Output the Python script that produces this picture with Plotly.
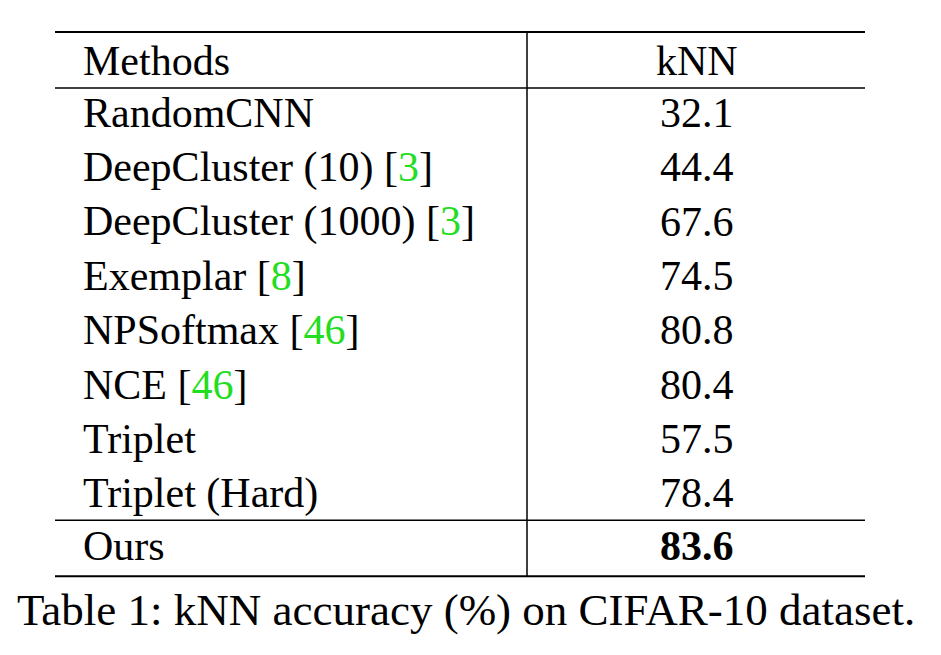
import plotly.graph_objects as go

GREEN = "#22dd22"
methods = ["RandomCNN", "DeepCluster (10)", "DeepCluster (1000)", "Exemplar", "NPSoftmax", "NCE",
           "Triplet", "Triplet (Hard)"]
refs = ["", "3", "3", "8", "46", "46", "", ""]
knn = ["32.1", "44.4", "67.6", "74.5", "80.8", "80.4", "57.5", "78.4"]
ours_name, ours_val = "Ours", "83.6"
header = ["Methods", "kNN"]
caption = "Table 1: kNN accuracy (%) on CIFAR-10 dataset."

W, H = 941, 655
OFF = 8  # page body margin
x_left, x_right, x_div = 55, 865, 527
x_text, x_num = 82, 697
y_top, y_head_line, y_row0, row_h = 32, 88, 113, 54.3
FS = 42
font = dict(family="Liberation Serif", size=FS, color="black")

fig = go.Figure()
ann = []
def add(x, y, t, anchor="left", size=FS):
    ann.append(dict(x=x, y=y, text=t, showarrow=False, xanchor=anchor, yanchor="middle",
                    borderpad=0, font=dict(font, size=size)))

add(x_text, (y_top + y_head_line) / 2 + 1, header[0])
add(x_num, (y_top + y_head_line) / 2 + 1, header[1], "center")
for i, (m, r, v) in enumerate(zip(methods, refs, knn)):
    y = y_row0 + i * row_h
    t = m + (f" [<span style='color:{GREEN}'>{r}</span>]" if r else "")
    add(x_text, y, t)
    add(x_num, y, v, "center")
y_ours_line = y_row0 + len(methods) * row_h - row_h / 2
y_ours = y_ours_line + row_h / 2 - 1
y_bottom = y_ours_line + 56
add(x_text, y_ours, ours_name)
add(x_num, y_ours, f"<b>{ours_val}</b>", "center")
add(16, y_bottom + 34, caption, "left", 45)

shapes = []
for y, w in [(y_top, 2), (y_head_line, 1.5), (y_ours_line, 1.5), (y_bottom, 2)]:
    shapes.append(dict(type="line", x0=x_left, x1=x_right, y0=y, y1=y, line=dict(color="black", width=w)))
shapes.append(dict(type="line", x0=x_div, x1=x_div, y0=y_top, y1=y_bottom, line=dict(color="black", width=1.5)))

fig.update_layout(width=W, height=H, margin=dict(l=0, r=0, t=0, b=0),
                  plot_bgcolor="white", paper_bgcolor="white",
                  xaxis=dict(range=[OFF, W + OFF], visible=False, fixedrange=True),
                  yaxis=dict(range=[H + OFF, OFF], visible=False, fixedrange=True),
                  annotations=ann, shapes=shapes, showlegend=False)
fig.write_html("out.html")
